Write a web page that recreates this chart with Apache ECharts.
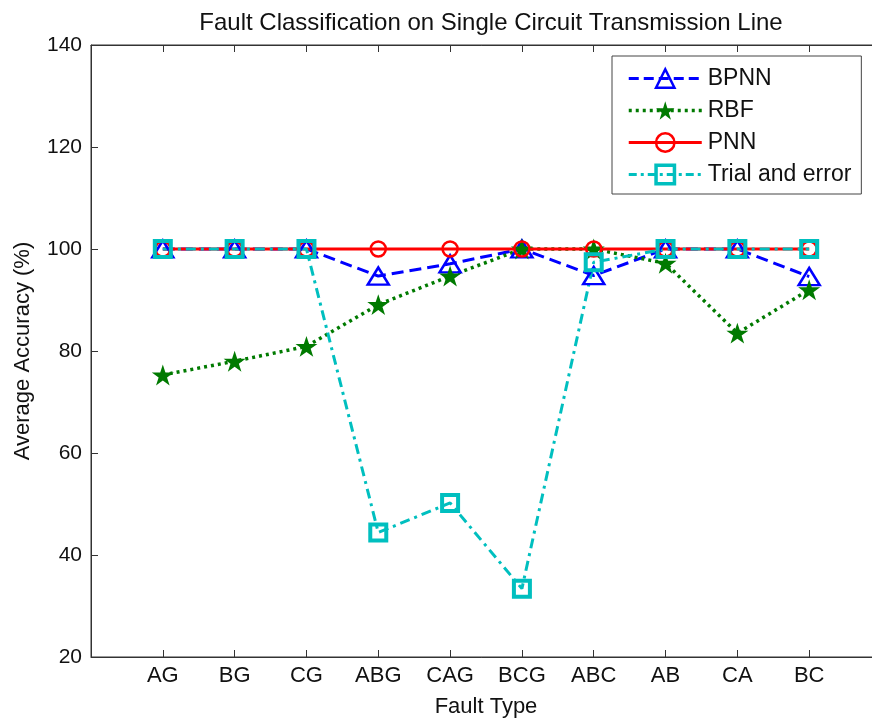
<!DOCTYPE html>
<html><head><meta charset="utf-8">
<script src="https://cdn.jsdelivr.net/npm/echarts@6/dist/echarts.min.js"></script>
<style>html,body{margin:0;padding:0;background:#fff}#c{width:872px;height:720px}</style>
</head><body><div id="c"></div>
<script>
var categories = ['AG','BG','CG','ABG','CAG','BCG','ABC','AB','CA','BC'];
var bpnn  = [100, 100, 100, 94.7, 97.1, 100, 94.8, 100, 100, 94.6];
var rbf   = [75.3, 78.0, 80.9, 89.1, 94.7, 100, 100, 97.2, 83.5, 92.0];
var pnn   = [100, 100, 100, 100, 100, 100, 100, 100, 100, 100];
var trial = [100, 100, 100, 44.4, 50.2, 33.4, 97.4, 100, 100, 100];
var yTicks = [20, 40, 60, 80, 100, 120, 140];

function pts(arr){ return arr.map(function(v,i){ return [i+1, v]; }); }
var star = 'path://M50,0 L61.8,36.2 L100,36.2 L69.1,58.6 L80.9,95 L50,72.6 L19.1,95 L30.9,58.6 L0,36.2 L38.2,36.2 Z';
var FONT = 'Liberation Sans, Arial, sans-serif';
var C = {bpnn:'#0000ff', rbf:'#007a00', pnn:'#ff0000', trial:'#00bfbf'};
var clear = 'rgba(255,255,255,0)';

var chart = echarts.init(document.getElementById('c'), null, {renderer:'canvas'});
chart.setOption({
  backgroundColor:'#fff',
  animation:false,
  title:{text:'Fault Classification on Single Circuit Transmission Line', left:486, top:6, textAlign:'center',
    textStyle:{fontFamily:FONT, fontSize:24, fontWeight:'normal', color:'#111'}},
  grid:{left:91, top:45, right:-9, bottom:63, show:true, borderColor:'#333', borderWidth:1,
    outerBoundsMode:'none', containLabel:false},
  legend:{orient:'vertical', left:612, top:56, padding:[11,10,8,15], itemGap:9,
    backgroundColor:'#fff', borderColor:'#444', borderWidth:1,
    itemWidth:73, itemHeight:23,
    textStyle:{fontFamily:FONT, fontSize:23, color:'#111', padding:[0,0,0,1]},
    data:[
      {name:'BPNN', lineStyle:{width:3, type:[10,5]}, itemStyle:{borderWidth:2.5}},
      {name:'RBF', lineStyle:{width:3.5, type:[3,4]}},
      {name:'PNN', lineStyle:{width:3}, itemStyle:{borderWidth:2.5}},
      {name:'Trial and error', lineStyle:{width:3, type:[8,4,3,4]}, itemStyle:{borderWidth:3.5}}
    ]},
  xAxis:[{type:'value', min:0, max:11, interval:1, position:'bottom',
    name:'Fault Type', nameLocation:'middle', nameGap:39,
    nameTextStyle:{fontFamily:FONT, fontSize:22, color:'#111'},
    axisLine:{lineStyle:{color:'#333'}}, splitLine:{show:false},
    axisTick:{inside:true, length:7, lineStyle:{color:'#333'}},
    axisLabel:{fontFamily:FONT, fontSize:22, color:'#111', margin:8,
      formatter:function(v){ return (v>=1 && v<=categories.length) ? categories[v-1] : ''; }}},
   {type:'value', min:0, max:11, interval:1, position:'top',
    axisLine:{lineStyle:{color:'#333'}}, splitLine:{show:false},
    axisTick:{inside:true, length:7, lineStyle:{color:'#333'}}, axisLabel:{show:false}}],
  yAxis:{type:'value', min:yTicks[0], max:yTicks[yTicks.length-1], interval:20,
    name:'Average Accuracy (%)', nameLocation:'middle', nameGap:57,
    nameTextStyle:{fontFamily:FONT, fontSize:22, color:'#111'},
    axisLine:{show:true, lineStyle:{color:'#333'}}, splitLine:{show:false},
    axisTick:{inside:true, length:7, lineStyle:{color:'#333'}},
    axisLabel:{fontFamily:FONT, fontSize:21, color:'#111', margin:9}},
  series:[
    {name:'BPNN', type:'line', data:pts(bpnn), symbol:'triangle', symbolSize:[21,17],
      color:C.bpnn,
      lineStyle:{color:C.bpnn, width:3, type:[12,6]},
      itemStyle:{color:clear, borderColor:C.bpnn, borderWidth:2.5}},
    {name:'RBF', type:'line', data:pts(rbf), symbol:star, symbolSize:22, symbolKeepAspect:true,
      color:C.rbf,
      lineStyle:{color:C.rbf, width:3.5, type:[3,4]},
      itemStyle:{color:C.rbf, borderColor:C.rbf, borderWidth:0}},
    {name:'PNN', type:'line', data:pts(pnn), symbol:'circle', symbolSize:15,
      color:C.pnn,
      lineStyle:{color:C.pnn, width:3, type:'solid'},
      itemStyle:{color:clear, borderColor:C.pnn, borderWidth:2.5}},
    {name:'Trial and error', type:'line', data:pts(trial), symbol:'rect', symbolSize:16,
      color:C.trial,
      lineStyle:{color:C.trial, width:3, type:[10,5,3,5]},
      itemStyle:{color:clear, borderColor:C.trial, borderWidth:4}}
  ]
});
</script></body></html>
